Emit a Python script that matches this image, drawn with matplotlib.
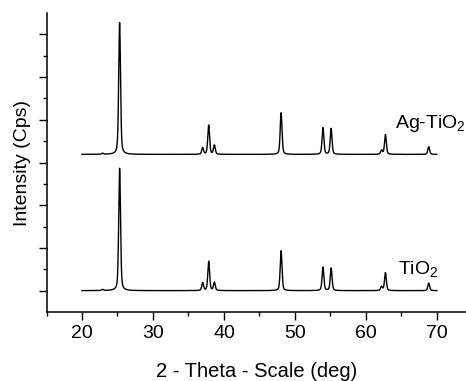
import numpy as np
import matplotlib
matplotlib.use("Agg")
import matplotlib.pyplot as plt
from matplotlib.ticker import FixedLocator

plt.rcParams['font.family'] = ['Liberation Sans', 'DejaVu Sans']
plt.rcParams['mathtext.fontset'] = 'custom'
plt.rcParams['mathtext.rm'] = 'Liberation Sans'

# Peak positions (2-theta, deg) and heights (arbitrary units above baseline)
peak_pos = [22.9, 25.3, 37.0, 37.85, 38.65, 48.05, 53.95, 55.1, 62.2, 62.75, 68.85]
tio2_heights = [0.05, 5.73, 0.37, 1.37, 0.39, 1.87, 1.10, 1.06, 0.19, 0.84, 0.35]
agtio2_heights = [0.05, 6.17, 0.31, 1.37, 0.43, 1.95, 1.25, 1.21, 0.19, 0.93, 0.36]
tio2_offset = 1.0
agtio2_offset = 7.38
two_theta_start, two_theta_end = 20.0, 70.0

fwhm = 0.3
x = np.linspace(two_theta_start, two_theta_end, 5001)

def profile(heights):
    y = np.zeros_like(x)
    for p, h in zip(peak_pos, heights):
        g = np.exp(-4 * np.log(2) * ((x - p) / fwhm) ** 2)
        l = 1.0 / (1 + 4 * ((x - p) / fwhm) ** 2)
        y += h * (0.6 * g + 0.4 * l)
    return y

fig = plt.figure(figsize=(4.66, 3.81), dpi=100)
ax = fig.add_axes([46.5 / 466, 69 / 381, (466 - 46.5) / 466, 299 / 381])

ax.plot(x, profile(tio2_heights) + tio2_offset, color='black', lw=1.0)
ax.plot(x, profile(agtio2_heights) + agtio2_offset, color='black', lw=1.0)

ax.text(64.5, 1.73, r'TiO$_{2}$', fontsize=14, ha='left', va='baseline')
ax.text(64.1, 8.6, r'Ag-TiO$_{2}$', fontsize=14, ha='left', va='baseline')

ax.set_xlim(15, 74.1)
ax.set_ylim(0, 14)

for s in ['top', 'right']:
    ax.spines[s].set_visible(False)
for s in ['left', 'bottom']:
    ax.spines[s].set_linewidth(1.1)

ax.xaxis.set_major_locator(FixedLocator([20, 30, 40, 50, 60, 70]))
ax.xaxis.set_minor_locator(FixedLocator([15, 25, 35, 45, 55, 65]))
ax.yaxis.set_major_locator(FixedLocator([1, 3, 5, 7, 9, 11, 13]))
ax.yaxis.set_minor_locator(FixedLocator([2, 4, 6, 8, 10, 12]))
ax.set_yticklabels([])
ax.tick_params(which='major', direction='out', length=5.5, width=1.0, labelsize=14, pad=4)
ax.tick_params(which='minor', direction='out', length=3, width=1.0)

ax.set_xlabel('2 - Theta - Scale (deg)', fontsize=14.5, labelpad=14)
ax.set_ylabel('Intensity (Cps)', fontsize=14, labelpad=2)

fig.savefig('out.png', dpi=100)
